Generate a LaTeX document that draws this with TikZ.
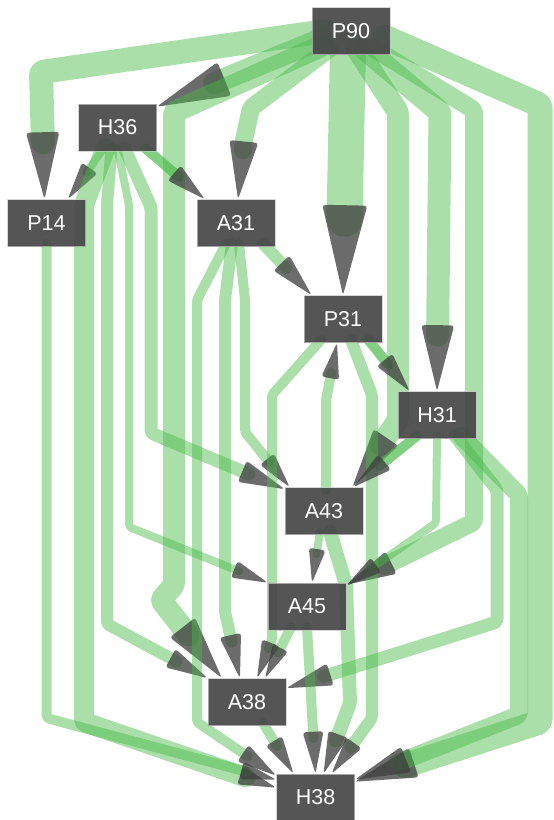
\documentclass[tikz,border=0pt]{standalone}
\usepackage{fontspec}
\setmainfont{Liberation Sans}
\usetikzlibrary{decorations.markings}
\definecolor{lg}{RGB}{70,185,70}
\definecolor{tipc}{RGB}{62,62,62}
\definecolor{boxc}{RGB}{72,72,72}
\pgfdeclarelayer{bg}
\pgfsetlayers{bg,main}
\begin{document}
\begin{tikzpicture}[x=1pt,y=-1pt,
  box/.style={fill=boxc, fill opacity=0.93, text opacity=1, draw=gray!45, draw opacity=0.7,
    line width=0.6pt, minimum width=78pt, minimum height=47pt, inner sep=0pt,
    text=white, font=\fontsize{21.5}{24}\selectfont},
  lnk/.style 2 args={draw=lg, draw opacity=0.46, line width=#1pt, line cap=round,
    line join=round, rounded corners=3pt, shorten >=0.85*#2pt,
    postaction={decorate, decoration={markings, mark=at position 0.99999 with
      {\fill[tipc, fill opacity=0.76] (0,0) -- (-#2,#2/4) -- (-#2,-#2/4) -- cycle;}}}},
  dk/.style={draw opacity=0.68}]
\useasboundingbox (0,0) rectangle (554,820);

\node[box] (P90) at (351,31) {P90};
\node[box] (H36) at (117.5,127.5) {H36};
\node[box] (P14) at (46.5,223) {P14};
\node[box] (A31) at (236,223) {A31};
\node[box] (P31) at (343,319) {P31};
\node[box] (H31) at (437,415) {H31};
\node[box] (A43) at (324,511) {A43};
\node[box] (A45) at (307,606.5) {A45};
\node[box] (A38) at (247,702) {A38};
\node[box] (H38) at (315.5,797.5) {H38};

\begin{pgfonlayer}{bg}
% from P90
\draw[lnk={24}{67}] ([xshift=14pt]P90.west) -- (41,72) -- ([xshift=-2pt]P14.north);
\draw[lnk={22}{73}] ([xshift=10pt,yshift=-8pt]P90.west) -- ([yshift=-3pt]H36.north east);
\draw[lnk={22}{64}] ([xshift=12pt,yshift=-14pt]P90.west) -- (174,112) -- (174,585) -- (161,600) -- ([xshift=-25pt]A38.north);
\draw[lnk={18}{58}] ([xshift=-22pt,yshift=6pt]P90.south) -- (251,108) -- (244,140) -- ([xshift=2pt]A31.north);
\draw[lnk={36}{90}] ([xshift=-3pt,yshift=8pt]P90.south) -- (P31.north);
\draw[lnk={22}{60}] ([xshift=6pt,yshift=6pt]P90.south) -- (398,112) -- (398,420) -- ([xshift=-11pt]A43.north east);
\draw[lnk={23}{66}] ([xshift=14pt,yshift=6pt]P90.south) -- (440,112) -- (H31.north);
\draw[lnk={18}{50}] ([xshift=20pt,yshift=8pt]P90.south) -- (474,110) -- (474,522) -- ([yshift=-2pt]A45.north east);
\draw[lnk={25}{62}] ([xshift=-6pt,yshift=-6pt]P90.east) -- (540,105) -- (540,722) -- ([yshift=-8pt]H38.north east);
% from H36
\draw[lnk={8}{38}] ([xshift=-14pt,yshift=3pt]H36.south) -- ([xshift=-18pt]P14.north east);
\draw[lnk={10}{40},dk] ([xshift=28pt,yshift=3pt]H36.south) -- ([xshift=8pt]A31.north west);
\draw[lnk={20}{38}] ([xshift=-12pt,yshift=3pt]H36.south) -- (84,205) -- (84,722) -- ([yshift=-14pt]H38.north west);
\draw[lnk={12}{42}] ([xshift=-6pt,yshift=3pt]H36.south) -- (107,205) -- (107,624) -- (A38.north west);
\draw[lnk={8}{36}] ([yshift=3pt]H36.south) -- (129,205) -- (129,527) -- (A45.north west);
\draw[lnk={13}{46}] ([xshift=7pt,yshift=3pt]H36.south) -- (151,207) -- (151,433) -- ([yshift=-2pt]A43.north west);
% from A31
\draw[lnk={12}{44}] ([xshift=-12pt,yshift=3pt]A31.south east) -- ([xshift=8pt]P31.north west);
\draw[lnk={10}{40}] ([xshift=-10pt,yshift=3pt]A31.south) -- (197,300) -- (197,722) -- ([yshift=-2pt]H38.north west);
\draw[lnk={12}{44}] ([xshift=-4pt,yshift=3pt]A31.south) -- (225,300) -- (225,612) -- ([xshift=-7pt]A38.north);
\draw[lnk={10}{36}] ([xshift=3pt,yshift=3pt]A31.south) -- (245,300) -- (245,432) -- ([xshift=5pt]A43.north west);
% from P31
\draw[lnk={10}{38}] ([xshift=-22pt,yshift=3pt]P31.south) -- (272,395) -- (272,640) -- ([xshift=10pt]A38.north);
\draw[lnk={12}{38}] ([xshift=8pt,yshift=3pt]P31.south) -- (372,395) -- (372,718) -- ([xshift=16pt]H38.north);
\draw[lnk={10}{40},dk] ([xshift=-14pt,yshift=3pt]P31.south east) -- ([xshift=12pt]H31.north west);
% from A43
\draw[lnk={10}{36}] ([xshift=2pt,yshift=-3pt]A43.north) -- (326,400) -- ([xshift=-6pt]P31.south);
\draw[lnk={8}{34}] ([xshift=-4pt,yshift=3pt]A43.south) -- ([xshift=5pt]A45.north);
\draw[lnk={14}{42}] ([xshift=6pt,yshift=3pt]A43.south) -- (346,585) -- (350,703) -- ([xshift=8pt]H38.north);
% from H31
\draw[lnk={10}{40},dk] ([xshift=-20pt,yshift=3pt]H31.south) -- ([xshift=-10pt]A43.north east);
\draw[lnk={8}{36}] ([yshift=3pt]H31.south) -- (436,523) -- ([yshift=-3pt]A45.north east);
\draw[lnk={13}{46}] ([xshift=18pt,yshift=3pt]H31.south) -- (497,490) -- (497,622) -- ([yshift=-10pt]A38.north east);
\draw[lnk={18}{55}] ([xshift=24pt,yshift=3pt]H31.south) -- (519,495) -- (519,715) -- ([yshift=-6pt]H38.north east);
% from A45
\draw[lnk={10}{34}] ([xshift=-16pt,yshift=3pt]A45.south) -- ([xshift=18pt]A38.north);
\draw[lnk={10}{42}] ([yshift=3pt]A45.south) -- (H38.north);
% from A38
\draw[lnk={10}{38}] ([xshift=16pt,yshift=3pt]A38.south) -- ([xshift=-22pt]H38.north);
% from P14
\draw[lnk={10}{36}] ([yshift=3pt]P14.south) -- (46.5,718) -- ([yshift=-6pt]H38.north west);
\end{pgfonlayer}
\end{tikzpicture}
\end{document}
